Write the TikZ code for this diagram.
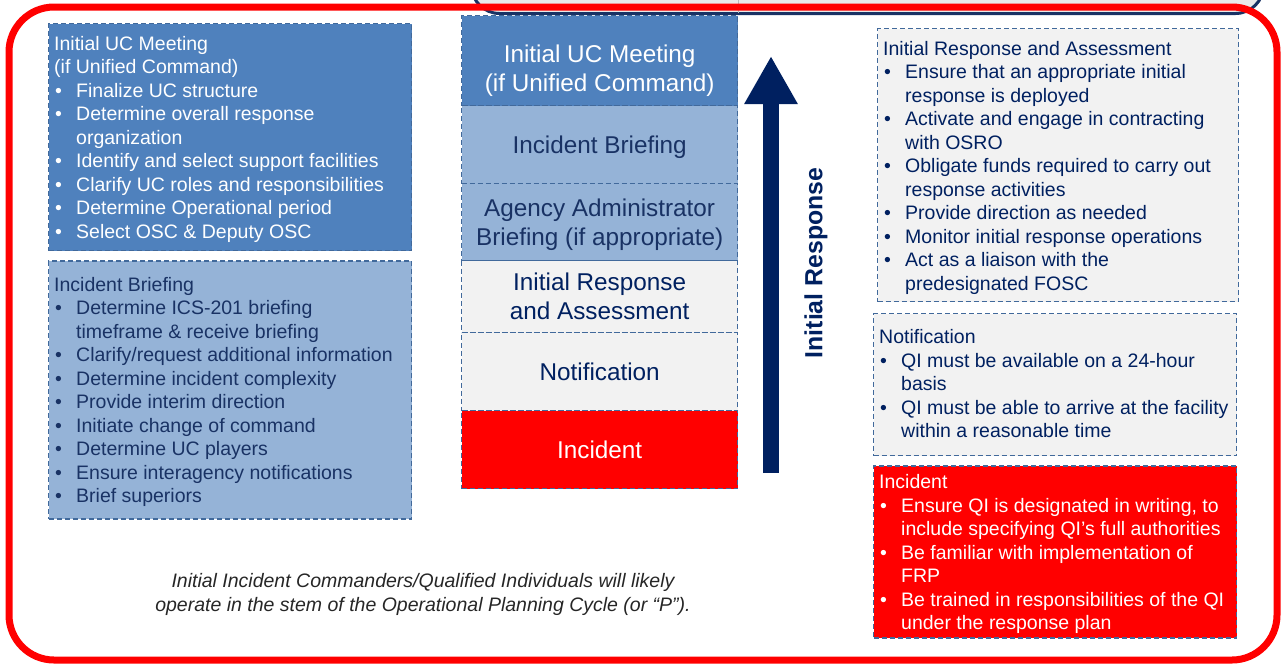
\documentclass[tikz,border=0pt]{standalone}
\usepackage{fontspec}
\setmainfont{Liberation Sans}
\usetikzlibrary{positioning,arrows.meta}

\definecolor{ucblue}{RGB}{79,129,189}
\definecolor{ibblue}{RGB}{149,179,215}
\definecolor{pale}{RGB}{242,242,242}
\definecolor{navy}{RGB}{0,32,96}
\definecolor{inkblue}{RGB}{25,50,100}
\definecolor{dashblue}{RGB}{65,105,155}
\definecolor{alarm}{RGB}{255,0,0}

\newcommand{\bul}{\hspace*{1pt}\makebox[21pt][l]{\textbullet}}
\newcommand{\cnt}{\hspace*{22pt}}

\begin{document}
\begin{tikzpicture}[x=1pt,y=-1pt,
    box/.style={draw=dashblue, line width=1.3pt, dash pattern=on 5pt off 3pt,
      anchor=north west, minimum width=363pt},
    boxtext/.style={anchor=north west, inner sep=0pt, align=left,
      font=\fontsize{19.5}{23.5}\selectfont},
    stemcell/.style={draw=dashblue, line width=1.3pt, dash pattern=on 5pt off 3pt, inner sep=2pt,
      minimum width=276pt, align=center, text depth=0pt, text=inkblue,
      font=\fontsize{24.3}{29}\selectfont}]
    \useasboundingbox (0,0) rectangle (1284,665);
    \clip (0,0) rectangle (1284,665);

    % left column
    \node[box, fill=ucblue, minimum height=227pt] (ucL) at (48,23) {};
    \node[boxtext, text=white] (ucLtxt) at ([xshift=6pt, yshift=-13pt]ucL.north west)
        {Initial UC Meeting\\(if Unified Command)\\
         \bul Finalize UC structure\\
         \bul Determine overall response\\\cnt organization\\
         \bul Identify and select support facilities\\
         \bul Clarify UC roles and responsibilities\\
         \bul Determine Operational period\\
         \bul Select OSC \& Deputy OSC};
    \node[box, fill=ibblue, minimum height=258pt, below=9pt of ucL] (ibL) {};
    \node[boxtext, text=inkblue] (ibLtxt) at ([xshift=6pt, yshift=-16.5pt]ibL.north west)
        {Incident Briefing\\
         \bul Determine ICS-201 briefing\\\cnt timeframe \& receive briefing\\
         \bul Clarify/request additional information\\
         \bul Determine incident complexity\\
         \bul Provide interim direction\\
         \bul Initiate change of command\\
         \bul Determine UC players\\
         \bul Ensure interagency notifications\\
         \bul Brief superiors};

    % stem of the P
    \node[stemcell, fill=ucblue, text=white, minimum height=90pt, anchor=north west] (stUC) at (461,15)
        {\rule{0pt}{32pt}Initial UC Meeting\\(if Unified Command)};
    \node[stemcell, fill=ibblue, minimum height=78pt, below=-1.3pt of stUC] (stIB) {Incident Briefing};
    \node[stemcell, fill=ibblue, minimum height=77pt, below=-1.3pt of stIB] (stAA) {Agency Administrator\\Briefing (if appropriate)};
    \node[stemcell, fill=pale, text=navy, minimum height=72pt, below=-1.3pt of stAA] (stIRA) {Initial Response\\and Assessment};
    \node[stemcell, fill=pale, text=navy, minimum height=78pt, below=-1.3pt of stIRA] (stNot) {Notification};
    \node[stemcell, fill=alarm, text=white, minimum height=78pt, below=-1.3pt of stNot] (stInc) {Incident};

    % cut-off cap above the stem
    \node[draw=inkblue, line width=3pt, fill=gray!17, rounded corners=28pt, anchor=south west,
        minimum width=792pt, minimum height=80pt] (cap) at (470,15) {};
    \draw[gray!55, line width=1pt] (cap.north -| stUC.east) -- ([yshift=2pt]cap.south -| stUC.east);

    % arrow
    \coordinate (tail) at (771,473);
    \coordinate (head) at (771,56);
    \draw[navy, line width=16pt, -{Triangle[width=50pt,length=48pt]}] (tail) -- (head);
    \node[rotate=90, text=navy, font=\fontsize{24.8}{29}\selectfont\bfseries] (irLabel) at (816,263) {Initial Response};

    % right column
    \node[box, fill=pale, minimum width=361pt, minimum height=273pt] (iraR) at (877,28) {};
    \node[boxtext, text=navy] (iraRtxt) at ([xshift=6pt, yshift=-13pt]iraR.north west)
        {Initial Response and Assessment\\
         \bul Ensure that an appropriate initial\\\cnt response is deployed\\
         \bul Activate and engage in contracting\\\cnt with OSRO\\
         \bul Obligate funds required to carry out\\\cnt response activities\\
         \bul Provide direction as needed\\
         \bul Monitor initial response operations\\
         \bul Act as a liaison with the\\\cnt predesignated FOSC};
    \node[box, fill=pale, minimum height=142pt] (notR) at (873,313) {};
    \node[boxtext, text=navy] (notRtxt) at ([xshift=6pt, yshift=-16.5pt]notR.north west)
        {Notification\\
         \bul QI must be available on a 24-hour\\\cnt basis\\
         \bul QI must be able to arrive at the facility\\\cnt within a reasonable time};
    \node[box, fill=alarm, minimum height=172pt, below=9pt of notR] (incR) {};
    \node[boxtext, text=white] (incRtxt) at ([xshift=6pt, yshift=-9pt]incR.north west)
        {Incident\\
         \bul Ensure QI is designated in writing, to\\\cnt include specifying QI's full authorities\\
         \bul Be familiar with implementation of\\\cnt FRP\\
         \bul Be trained in responsibilities of the QI\\\cnt under the response plan};

    % note
    \node[align=center, text=black!85, font=\fontsize{19.5}{24}\selectfont\itshape] (note) at (423,594)
        {Initial Incident Commanders/Qualified Individuals will likely\\operate in the stem of the Operational Planning Cycle (or “P”).};

    % frame
    \draw[alarm, line width=7pt, rounded corners=45pt] (9,7) rectangle (1277,660);
\end{tikzpicture}
\end{document}
